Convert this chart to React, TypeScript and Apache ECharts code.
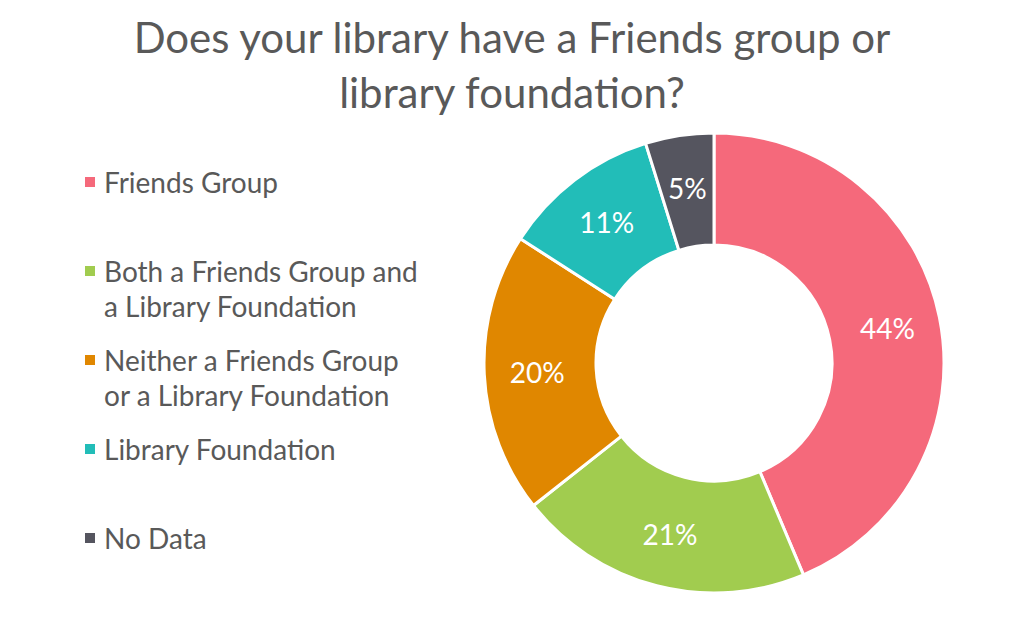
import * as echarts from "echarts";
import { useEffect, useRef } from "react";

// legend text, one entry per slice (multi-line entries wrap like the original)
const legendLines: string[][] = [
  ["Friends Group"],
  ["Both a Friends Group and", "a Library Foundation"],
  ["Neither a Friends Group", "or a Library Foundation"],
  ["Library Foundation"],
  ["No Data"],
];
const categories = legendLines.map((l) => l.join(" "));
const shares = [43.6, 20.7, 19.7, 11.1, 4.8];
const colors = ["#F5697B", "#A1CC4F", "#E08700", "#22BDB8", "#55555F"];

const FONT = "Lato";
const TEXT = "#595959";
const LEGEND_LINE = 35;

export default function App() {
  const chartRef = useRef<HTMLDivElement>(null);

  useEffect(() => {
    const chart = echarts.init(chartRef.current!, null, { renderer: "svg" });

    const legends = legendLines.map((lines, i) => {
      const center = 182 + 89 * i;
      const nLines = lines.length > 1 ? lines.length + 1 : 1;
      return {
        data: [categories[i]],
        orient: "vertical",
        left: 83,
        top: center - (nLines * LEGEND_LINE) / 2,
        padding: 0,
        icon: "rect",
        itemWidth: 12,
        itemHeight: 12,
        itemGap: 10,
        selectedMode: false,
        formatter: () => (lines.length > 1 ? "\n" + lines.join("\n") : lines[0]),
        textStyle: {
          fontFamily: FONT,
          fontSize: 28,
          color: TEXT,
          lineHeight: LEGEND_LINE,
          padding: [0, 0, 0, 3],
        },
      };
    });

    chart.setOption({
      animation: false,
      color: colors,
      title: {
        text: "Does your library have a Friends group or\nlibrary foundation?",
        left: "center",
        top: 4,
        textStyle: {
          fontFamily: FONT,
          fontSize: 42,
          fontWeight: "normal",
          color: TEXT,
          lineHeight: 55,
        },
      },
      legend: legends,
      series: [
        {
          type: "pie",
          center: [714, 363],
          radius: [118, 230],
          startAngle: 90,
          clockwise: true,
          avoidLabelOverlap: false,
          itemStyle: { borderColor: "#ffffff", borderWidth: 3 },
          label: {
            show: true,
            position: "inside",
            color: "#ffffff",
            fontFamily: FONT,
            fontSize: 28,
            formatter: (p: any) => Math.round(p.value) + "%",
          },
          labelLine: { show: false },
          data: categories.map((name, i) => ({ name, value: shares[i] })),
        },
      ],
    });

    return () => chart.dispose();
  }, []);

  return (
    <div
      ref={chartRef}
      style={{ position: "fixed", left: 0, top: 0, width: 1024, height: 626, background: "#ffffff" }}
    />
  );
}
